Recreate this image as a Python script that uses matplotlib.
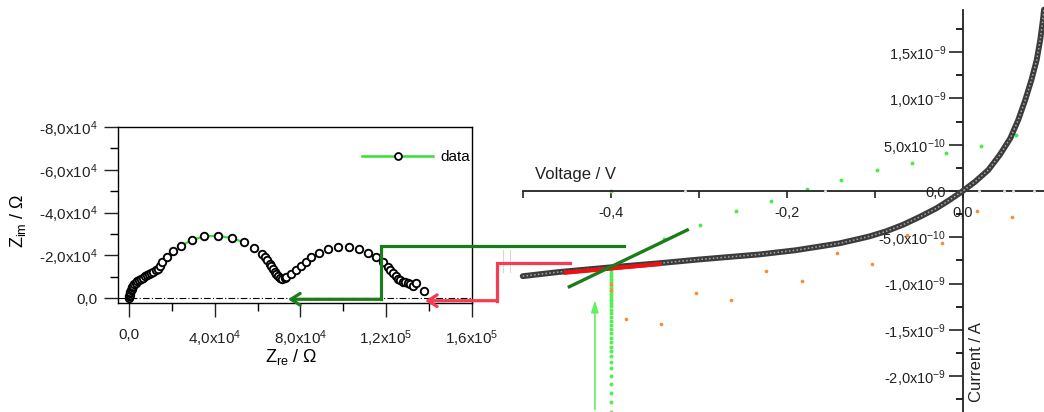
import numpy as np
import matplotlib
matplotlib.use('Agg')
import matplotlib.pyplot as plt
from matplotlib.lines import Line2D
from matplotlib.patches import FancyArrowPatch
from matplotlib.ticker import MultipleLocator

plt.rcParams['font.family'] = ['Liberation Sans', 'DejaVu Sans']
plt.rcParams['mathtext.fontset'] = 'custom'
plt.rcParams['mathtext.rm'] = 'Liberation Sans'
plt.rcParams['mathtext.it'] = 'Liberation Sans:italic'
plt.rcParams['mathtext.bf'] = 'Liberation Sans:bold'

# ---- Nyquist data (ohm) ----
z_re = [0, 50, 150, 300, 500, 750, 1050, 1400, 1800, 2300, 2900, 3600, 4400, 5300, 6300,
        7300, 8300, 9300, 10300, 11300, 12300, 13300, 14300, 15400, 17400, 20500, 24400,
        29100, 35000, 41500, 47800, 53700, 58200, 61900, 63300, 64600, 65700, 66400, 67200,
        68000, 68800, 69600, 70500, 71600, 72700, 73400, 75800, 78100, 80400, 82500, 85100,
        88700, 92900, 97600, 102500, 107200, 111600, 115500, 118600, 120900, 122000, 123200,
        124500, 125600, 126700, 127900, 129100, 130200, 131300, 132600, 134100, 137700]
z_im = [-300, -900, -1600, -2300, -3000, -3700, -4400, -5100, -5800, -6500, -7200, -7900,
        -8500, -9100, -9700, -10300, -10800, -11300, -11800, -12400, -13000, -13800, -15000,
        -16900, -19200, -22000, -24600, -27200, -28900, -29200, -28100, -26100, -23500,
        -20800, -19200, -17700, -16100, -14900, -13500, -12300, -11200, -10300, -9700, -9200,
        -9500, -10000, -11200, -13100, -15100, -16900, -19200, -21100, -23100, -23900, -23900,
        -22800, -21100, -19200, -16900, -14600, -13400, -11800, -10600, -9200, -8500, -7700,
        -7400, -7200, -6900, -5800, -7200, -3500]

nyq_xticks = [0, 40000, 80000, 120000, 160000]
nyq_xlabels = ['0,0', '4,0x10$^4$', '8,0x10$^4$', '1,2x10$^5$', '1,6x10$^5$']
nyq_yticks = [0, -20000, -40000, -60000, -80000]
nyq_ylabels = ['0,0', '-2,0x10$^4$', '-4,0x10$^4$', '-6,0x10$^4$', '-8,0x10$^4$']

# ---- I-V data (V, 1e-10 A) ----
v_iv = [-0.5, -0.459, -0.4, -0.345, -0.3, -0.231, -0.19, -0.163, -0.14, -0.117, -0.106,
        -0.087, -0.068, -0.049, -0.03, -0.015, 0.0, 0.014, 0.029, 0.042, 0.054, 0.063,
        0.071, 0.078, 0.084, 0.088, 0.091, 0.0923]
i_iv = [-9.2, -8.75, -8.24, -7.8, -7.4, -6.85, -6.4, -6.0, -5.65, -5.15, -4.9, -4.35,
        -3.65, -2.8, -1.87, -0.97, 0.0, 1.0, 2.27, 3.89, 5.69, 7.67, 9.83, 11.99, 14.15,
        16.31, 18.47, 19.6]

v_green = [-0.339, -0.298, -0.258, -0.218, -0.177, -0.138, -0.098, -0.058, -0.019, 0.021, 0.061]
i_green = [-5.18, -3.67, -2.13, -1.05, 0.25, 1.16, 2.27, 3.02, 4.07, 4.86, 6.05]

v_orange = [-0.4, -0.4, -0.383, -0.343, -0.303, -0.263, -0.223, -0.183, -0.143, -0.103,
            -0.063, -0.024, 0.016, 0.056]
i_orange = [-10.0, -10.7, -13.82, -14.4, -10.98, -11.8, -8.67, -9.72, -6.73, -7.85,
            -4.75, -5.62, -2.19, -2.78]

v_step = -0.4
i_step = [0.0, -8.53, -8.86, -9.18, -9.5, -9.83, -10.15, -10.48, -10.8, -11.12, -11.45,
          -11.77, -12.1, -12.42, -12.8, -13.21, -13.64, -14.04, -14.47, -14.94, -15.37,
          -15.84, -16.34, -16.82, -17.28, -17.82, -18.44, -19.15, -19.95, -20.84, -21.78,
          -22.76, -23.84]

v_axis_pts = [-0.316, -0.156, 0.018, 0.047, 0.057, 0.081]

v_red_tan = [-0.451, -0.344]
i_red_tan = [-8.82, -7.88]
v_green_tan = [-0.447, -0.313]
i_green_tan = [-10.34, -4.21]

iv_xticks = [-0.4, -0.2, 0.0]
iv_xlabels = ['-0,4', '-0,2', '0,0']
iv_yticks = [-20, -15, -10, -5, 0, 5, 10, 15]
iv_ylabels = ['-2,0x10$^{-9}$', '-1,5x10$^{-9}$', '-1,0x10$^{-9}$', '-5,0x10$^{-10}$',
              '0,0', '5,0x10$^{-10}$', '1,0x10$^{-9}$', '1,5x10$^{-9}$']

W, H = 1044, 412
fig = plt.figure(figsize=(W / 100, H / 100), dpi=100)

# ---------------- Nyquist plot ----------------
ax1 = fig.add_axes([118.3 / W, 1 - 303 / H, (471.5 - 118.3) / W, (303 - 127) / H])
ax1.axhline(0, color='black', lw=0.8, ls=(0, (6, 2, 1, 2)), zorder=1)
ax1.plot(z_re[26:32], z_im[26:32], color='#33e033', lw=1.6, zorder=2)
ax1.plot(z_re, z_im, ls='none', marker='o', ms=5.4, mfc='white', mec='black', mew=1.35, zorder=3)
ax1.set_xlim(-5150, 160000)
ax1.set_ylim(2200, -80000)
ax1.set_xticks(nyq_xticks, nyq_xlabels)
ax1.set_yticks(nyq_yticks, nyq_ylabels)
ax1.xaxis.set_minor_locator(MultipleLocator(20000))
ax1.yaxis.set_minor_locator(MultipleLocator(10000))
ax1.tick_params(which='major', direction='out', length=10, width=1, labelsize=11, pad=8,
                colors='#222222')
ax1.tick_params(which='minor', direction='out', length=6, width=1)
ax1.tick_params(axis='y', pad=5)
for s in ax1.spines.values():
    s.set_linewidth(1.0)
ax1.set_xlabel('Z$_{\\mathregular{re}}$ / Ω', fontsize=13)
ax1.xaxis.set_label_coords(0.49, -0.25)
ax1.set_ylabel('Z$_{\\mathregular{im}}$ / Ω', fontsize=13)
ax1.yaxis.set_label_coords(-0.255, 0.47)
handle = Line2D([], [], color='#33e033', lw=1.8, marker='o', ms=5, mfc='white',
                mec='black', mew=1.3)
ax1.legend([handle], ['data'], loc='center left', bbox_to_anchor=(0.691, 0.83),
           frameon=False, fontsize=11, handlelength=4.6, handletextpad=0.5,
           borderpad=0, borderaxespad=0)

# ---------------- I-V plot ----------------
ax2 = fig.add_axes([522.7 / W, 0, 1 - 522.7 / W, (H - 10) / H])
ax2.patch.set_alpha(0)
ax2.set_xlim(-0.5, 0.0923)
ax2.set_ylim(-23.87, 19.55)
for side in ['top', 'right']:
    ax2.spines[side].set_visible(False)
ax2.spines['left'].set_position(('data', 0))
ax2.spines['bottom'].set_position(('data', 0))
for side in ['left', 'bottom']:
    ax2.spines[side].set_linewidth(1.3)
    ax2.spines[side].set_color('#222222')
ax2.set_xticks(iv_xticks, iv_xlabels)
ax2.set_yticks(iv_yticks, iv_ylabels)
ax2.xaxis.set_minor_locator(MultipleLocator(0.1))
ax2.yaxis.set_minor_locator(MultipleLocator(2.5))
ax2.tick_params(axis='x', which='both', direction='out', length=5, width=1.2,
                labelsize=10.5, pad=6, colors='#222222')
ax2.tick_params(axis='y', which='major', direction='out', length=10, width=1.2,
                labelsize=10.5, pad=2, colors='#222222')
ax2.tick_params(axis='y', which='minor', direction='out', length=5, width=1.2)

ax2.plot(v_green, i_green, ls='none', marker='o', ms=2.8, color='#44ee44', mew=0, zorder=2)
ax2.plot([v_step] * len(i_step), i_step, ls='none', marker='o', ms=2.9, color='#55ee55',
         mew=0, zorder=2)
ax2.plot(v_orange, i_orange, ls='none', marker='o', ms=2.6, color='#ff8833', mew=0, zorder=3)
ax2.plot(v_axis_pts, [0] * len(v_axis_pts), ls='none', marker='o', ms=2.2, color='#e0e0e0',
         mew=0, zorder=4, clip_on=False)
ax2.plot(v_iv, i_iv, color='#3c3c3c', lw=4.2, solid_capstyle='round',
         solid_joinstyle='round', zorder=4, clip_on=False)
ax2.plot(v_iv, i_iv, color='#a8a8a8', lw=1.1, ls=(0, (1, 1.5)), zorder=5, clip_on=False)
ax2.plot(v_red_tan, i_red_tan, color='#ee1111', lw=3, zorder=6)
ax2.plot(v_green_tan, i_green_tan, color='#1a7d1a', lw=2.4, zorder=7)
ax2.annotate('', xy=(-0.418, -11.8), xytext=(-0.418, -23.6),
             arrowprops=dict(arrowstyle='-|>,head_length=0.7,head_width=0.22',
                             color='#66ee66', lw=1.2, shrinkA=0, shrinkB=0))
ax2.text(0.0236, 0.5896, 'Voltage / V', transform=ax2.transAxes, fontsize=12,
         ha='left', va='center', color='#222222')
ax2.text(0.871, 0.125, 'Current / A', transform=ax2.transAxes, fontsize=12, rotation=90,
         ha='center', va='center', color='#222222')


# ---------------- connecting brackets (figure pixels) ----------------
def fx(x):
    return x / W


def fy(y):
    return 1 - y / H


def bracket(xs, ys, tip, color):
    fig.add_artist(Line2D([fx(x) for x in xs], [fy(y) for y in ys], color=color, lw=2.3,
                          solid_joinstyle='miter', transform=fig.transFigure, zorder=8))
    fig.add_artist(FancyArrowPatch((fx(xs[-1]), fy(ys[-1])), (fx(tip[0]), fy(tip[1])),
                                   transform=fig.transFigure,
                                   arrowstyle='->,head_length=0.55,head_width=0.35',
                                   color=color, lw=2.3, shrinkA=0, shrinkB=0,
                                   mutation_scale=12, zorder=8))


bracket([624, 381, 381], [245.7, 245.7, 299.3], (288, 299.3), '#1a7d1a')
bracket([570, 496.7, 496.7], [263.3, 263.3, 300.7], (425, 300.7), '#f73b52')
for gx in [503, 510]:
    fig.add_artist(Line2D([fx(gx), fx(gx)], [fy(250), fy(272)], color='#d8d8d8', lw=0.8,
                          transform=fig.transFigure, zorder=1))

fig.savefig('out.png', dpi=100)
